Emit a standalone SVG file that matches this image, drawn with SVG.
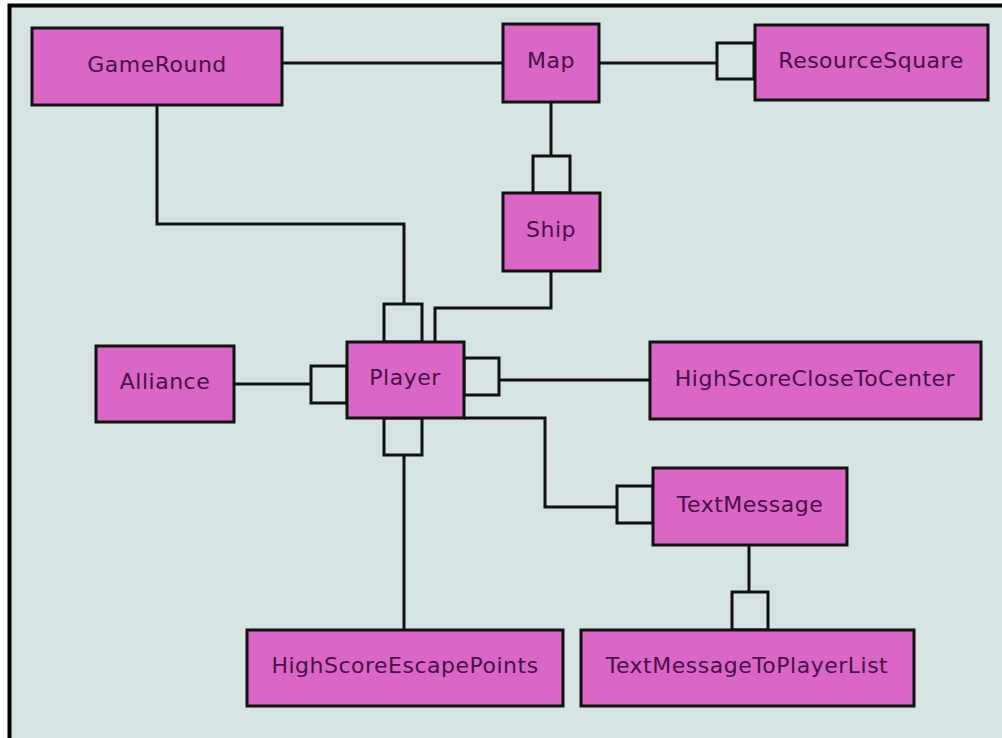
<svg xmlns="http://www.w3.org/2000/svg" width="1002" height="738" viewBox="0 0 1002 738">
  <style>
    .box { fill: #da66c6; stroke: #111; stroke-width: 3; }
    .port { fill: #d6e5e3; stroke: #111; stroke-width: 3; }
    .lbl { font-family: "DejaVu Sans", Verdana, sans-serif; font-size: 22px; letter-spacing: 0.5px; fill: #4a0f45; text-anchor: middle; dominant-baseline: central; }
    .wire { fill: none; stroke: #111; stroke-width: 3; }
  </style>
  <!-- canvas -->
  <rect x="0" y="0" width="1002" height="738" fill="#ffffff"/>
  <rect x="9" y="5" width="1000" height="740" fill="#d6e5e3"/>
  <path d="M9.5 745 V5.5 H1002" fill="none" stroke="#000" stroke-width="4"/>

  <!-- connectors -->
  <g id="connectors">
    <path class="wire" d="M282 63 H503"/>
    <path class="wire" d="M599 63 H717"/>
    <path class="wire" d="M551 102 V156"/>
    <path class="wire" d="M157 105 V224 H404 V304"/>
    <path class="wire" d="M435 342 V308 H551 V271"/>
    <path class="wire" d="M234 384 H311"/>
    <path class="wire" d="M499 380 H650"/>
    <path class="wire" d="M404 455 V630"/>
    <path class="wire" d="M464 418 H545 V507 H617"/>
    <path class="wire" d="M749 545 V592"/>
    <!-- port squares -->
    <rect class="port" x="717" y="43" width="37" height="36"/>
    <rect class="port" x="533" y="156" width="37" height="37"/>
    <rect class="port" x="384" y="304" width="38" height="38"/>
    <rect class="port" x="311" y="366" width="36" height="37"/>
    <rect class="port" x="464" y="358" width="35" height="37"/>
    <rect class="port" x="384" y="418" width="38" height="37"/>
    <rect class="port" x="617" y="486" width="36" height="37"/>
    <rect class="port" x="732" y="592" width="36" height="38"/>
  </g>

  <g id="GameRound">
    <rect class="box" x="32" y="28" width="250" height="77"/>
    <text class="lbl" x="157" y="64">GameRound</text>
  </g>
  <g id="Map">
    <rect class="box" x="503" y="24" width="96" height="78"/>
    <text class="lbl" x="551" y="60">Map</text>
  </g>
  <g id="ResourceSquare">
    <rect class="box" x="755" y="25" width="233" height="75"/>
    <text class="lbl" x="871" y="60">ResourceSquare</text>
  </g>
  <g id="Ship">
    <rect class="box" x="503" y="193" width="97" height="78"/>
    <text class="lbl" x="551" y="229">Ship</text>
  </g>
  <g id="Alliance">
    <rect class="box" x="96" y="346" width="138" height="76"/>
    <text class="lbl" x="165" y="381">Alliance</text>
  </g>
  <g id="Player">
    <rect class="box" x="347" y="342" width="117" height="76"/>
    <text class="lbl" x="405" y="377">Player</text>
  </g>
  <g id="HighScoreCloseToCenter">
    <rect class="box" x="650" y="342" width="331" height="77"/>
    <text class="lbl" x="815" y="378">HighScoreCloseToCenter</text>
  </g>
  <g id="TextMessage">
    <rect class="box" x="653" y="468" width="194" height="77"/>
    <text class="lbl" x="750" y="504">TextMessage</text>
  </g>
  <g id="HighScoreEscapePoints">
    <rect class="box" x="247" y="630" width="316" height="76"/>
    <text class="lbl" x="405" y="665">HighScoreEscapePoints</text>
  </g>
  <g id="TextMessageToPlayerList">
    <rect class="box" x="581" y="630" width="333" height="76"/>
    <text class="lbl" x="747" y="665">TextMessageToPlayerList</text>
  </g>
</svg>
